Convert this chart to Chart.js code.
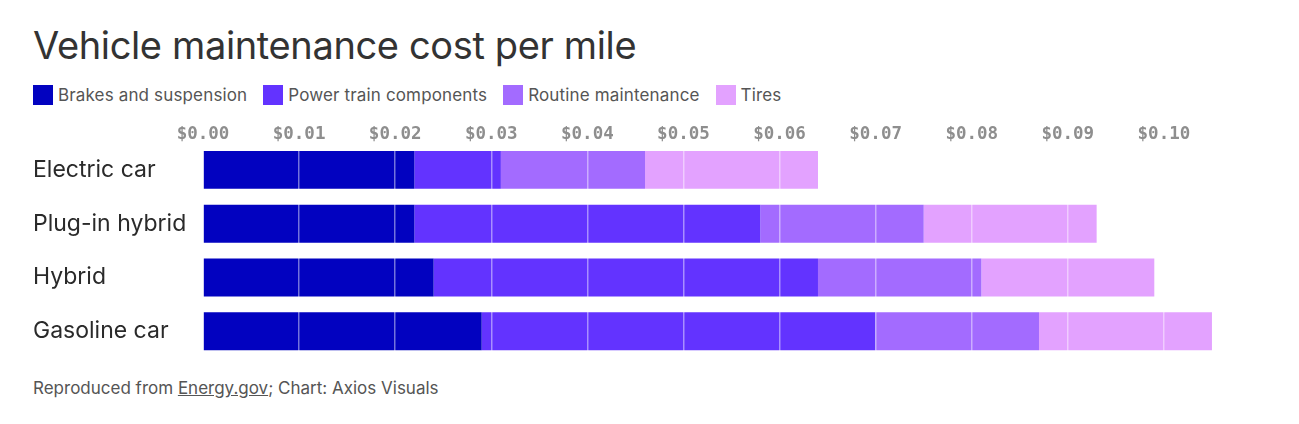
<!DOCTYPE html>
<html>
<head>
<meta charset="utf-8">
<script src="https://cdn.jsdelivr.net/npm/chart.js@4"></script>
<style>
  html, body { margin: 0; padding: 0; background: #fff; }
  body { width: 1299px; height: 424px; position: relative; overflow: hidden; font-family: Inter, "Noto Sans", sans-serif; }
  #title { position: absolute; left: 33px; top: 22px; font-size: 38px; color: #333; letter-spacing: -0.36px; white-space: nowrap; }
  #legend { position: absolute; left: 33px; top: 85px; display: flex; align-items: center; font-size: 17px; letter-spacing: 0.15px; color: #555; white-space: nowrap; }
  .item { display: flex; align-items: center; margin-right: 16px; }
  .sw { width: 20px; height: 20px; margin-right: 5px; }
  #footer { position: absolute; left: 33px; top: 378px; font-size: 17px; color: #555; white-space: nowrap; }
  #footer u { text-decoration: underline; }
  #wrap { position: absolute; left: 0; top: 118px; width: 1299px; height: 254px; }
</style>
</head>
<body>
<div id="title">Vehicle maintenance cost per mile</div>
<div id="legend"></div>
<div id="wrap"><canvas id="c"></canvas></div>
<div id="footer">Reproduced from <u>Energy.gov</u>; Chart: Axios Visuals</div>
<script>
const categories = ["Electric car", "Plug-in hybrid", "Hybrid", "Gasoline car"];
const seriesNames = ["Brakes and suspension", "Power train components", "Routine maintenance", "Tires"];
const brakes    = [0.022, 0.022, 0.024, 0.029];
const powerTrain = [0.009, 0.036, 0.040, 0.041];
const routine   = [0.015, 0.017, 0.017, 0.017];
const tires     = [0.018, 0.018, 0.018, 0.018];
const tickValues = [0, 0.01, 0.02, 0.03, 0.04, 0.05, 0.06, 0.07, 0.08, 0.09, 0.10];
const colors = ["#0202c0", "#6333ff", "#a36bff", "#e3a2ff"];

const seriesData = [brakes, powerTrain, routine, tires];

const legend = document.getElementById('legend');
seriesNames.forEach((n, i) => {
  const it = document.createElement('div'); it.className = 'item';
  const sw = document.createElement('div'); sw.className = 'sw'; sw.style.background = colors[i];
  const t = document.createElement('span'); t.textContent = n;
  it.appendChild(sw); it.appendChild(t); legend.appendChild(it);
});

new Chart(document.getElementById('c'), {
  type: 'bar',
  data: {
    labels: categories,
    datasets: seriesNames.map((n, i) => ({
      label: n,
      data: seriesData[i],
      backgroundColor: colors[i],
      borderWidth: 0,
      categoryPercentage: 1,
      barPercentage: 38 / 54
    }))
  },
  options: {
    indexAxis: 'y',
    responsive: true,
    maintainAspectRatio: false,
    animation: false,
    events: [],
    layout: { padding: { left: 33, right: 39, top: 8, bottom: 5 } },
    plugins: { legend: { display: false }, tooltip: { enabled: false } },
    scales: {
      x: {
        position: 'top',
        stacked: true,
        min: 0,
        max: 0.11,
        afterBuildTicks: (s) => { s.ticks = tickValues.map(v => ({ value: v })); },
        border: { display: false },
        grid: { color: 'rgba(255,255,255,0.45)', lineWidth: 1.5, drawTicks: false, z: 1 },
        ticks: {
          padding: -2,
          color: '#8e8e8e',
          font: { family: '"DejaVu Sans Mono", monospace', size: 17.5, weight: 'bold' },
          callback: (v) => '$' + Number(v).toFixed(2)
        }
      },
      y: {
        stacked: true,
        border: { display: false },
        grid: { display: false, drawTicks: false },
        afterFit: (s) => { s.width = 170; },
        ticks: {
          crossAlign: 'far',
          padding: 0,
          color: '#2a2a2a',
          font: { family: 'Inter, "Noto Sans", sans-serif', size: 23 }
        }
      }
    }
  }
});
</script>
</body>
</html>
